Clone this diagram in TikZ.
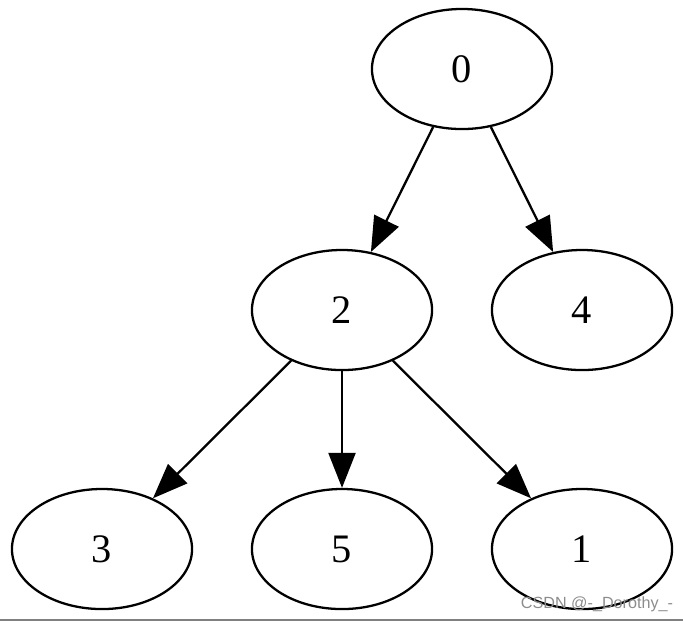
\documentclass[tikz,border=0pt]{standalone}
\usepackage{fontspec}
\setmainfont{Liberation Serif}
\newfontfamily\wmfont{Liberation Sans}
\usetikzlibrary{arrows.meta, shapes.geometric}

\begin{document}
\begin{tikzpicture}[x=0.01cm, y=-0.01cm,
    vertex/.style={draw, ellipse, line width=0.65pt, inner sep=0pt,
      minimum width=1.8cm, minimum height=1.2cm, font=\fontsize{11.5}{12}\selectfont},
    edge/.style={line width=0.65pt, -{Triangle[length=0.35cm, width=0.27cm]}}]
  \useasboundingbox (0,0) rectangle (683,623);
  % tree nodes
  \node[vertex] (n0) at (462,69)  {0};
  \node[vertex] (n2) at (342,310) {2};
  \node[vertex] (n4) at (582,310) {4};
  \node[vertex] (n3) at (102,549) {3};
  \node[vertex] (n5) at (342,549) {5};
  \node[vertex] (n1) at (582,549) {1};
  % edges
  \draw[edge] (n0) -- (n2);
  \draw[edge] (n0) -- (n4);
  \draw[edge] (n2) -- (n3);
  \draw[edge] (n2) -- (n5);
  \draw[edge] (n2) -- (n1);
  % watermark and bottom rule
  \node[font=\wmfont\fontsize{4.6}{5}\selectfont, text=black!45, inner sep=0pt] (wm) at (597,604) {CSDN @-\_Dorothy\_-};
  \draw[black!50, line width=0.6pt] (0,620) -- (683,620);
\end{tikzpicture}
\end{document}
